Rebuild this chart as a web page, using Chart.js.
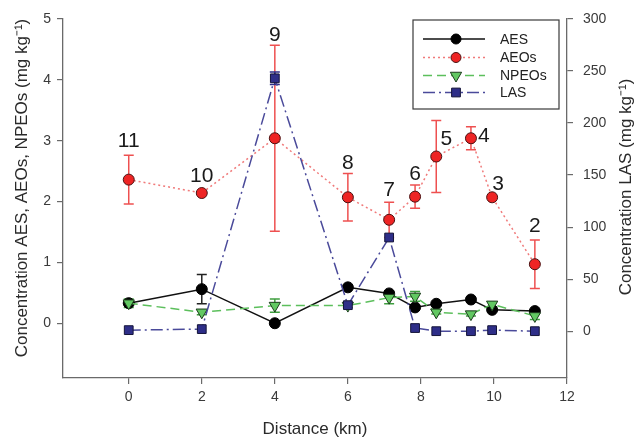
<!DOCTYPE html>
<html><head><meta charset="utf-8">
<script src="https://cdn.jsdelivr.net/npm/chart.js@4/dist/chart.umd.min.js"></script>
<style>html,body{margin:0;padding:0;background:#fff}#wrap{width:636px;height:437px}</style>
</head><body><div id="wrap"><canvas id="c" width="636" height="437"></canvas></div>
<script>
// ---- data ----
const distance = [0, 2, 4, 6, 7.13, 7.84, 8.42, 9.37, 9.95, 11.12];
const siteLabels = ['11', '10', '9', '8', '7', '6', '5', '4', '3', '2'];
const aes      = [0.33, 0.56, 0.00, 0.59, 0.49, 0.26, 0.32, 0.39, 0.22, 0.20];
const aesErr   = [0.03, 0.24, 0.02, 0.03, 0.03, 0.02, 0.02, 0.02, 0.02, 0.02];
const aeos     = [2.36, 2.14, 3.04, 2.07, 1.70, 2.08, 2.74, 3.04, 2.07, 0.97];
const aeosErr  = [0.40, 0.00, 1.53, 0.39, 0.29, 0.19, 0.59, 0.19, 0.00, 0.40];
const npeos    = [0.33, 0.18, 0.29, 0.29, 0.42, 0.44, 0.18, 0.15, 0.31, 0.12];
const npeosErr = [0.07, 0.04, 0.11, 0.03, 0.10, 0.08, 0.03, 0.03, 0.04, 0.06];
const las      = [1, 2, 243, 25, 90, 3, 0, 0, 1, 0];
const lasErr   = [0, 0, 6, 0, 0, 0, 0, 0, 0, 0];
const xTicks = [0, 2, 4, 6, 8, 10, 12];
const leftTicks = [0, 1, 2, 3, 4, 5];
const rightTicks = [0, 50, 100, 150, 200, 250, 300];
const seriesNames = ['AES', 'AEOs', 'NPEOs', 'LAS'];

// ---- styles / label placement (pixel offsets from AEOs point) ----
const labelOffsets = [[0,-38],[0,-17],[0,-103],[0,-34],[0,-30],[0,-22],[10,-17],[13,-2],[6,-13],[0,-38]];
const FONT = "'Liberation Sans', Arial, Helvetica, sans-serif";
const axisColor = '#6a6a6a';
const tickColor = '#3a3a3a';

function mk(ys){ return distance.map((x,i)=>({x:x, y:ys[i]})); }

const styles = [
  {line:'#111111', dash:[], fill:'#000000', border:'#000000', shape:'circle', r:5.5, err:'#222222'},
  {line:'#f07a7a', dash:[2,3], fill:'#ee2424', border:'#4a1212', shape:'circle', r:5.5, err:'#ee5050'},
  {line:'#5cbf5c', dash:[9,5], fill:'#62c862', border:'#1d3d1d', shape:'triangle', r:6.5, err:'#3f9f3f'},
  {line:'#4a4a9a', dash:[12,4,2,4], fill:'#2e2e88', border:'#15153a', shape:'rect', r:6.2, err:'#2e2e88'}
];
const errs = [aesErr, aeosErr, npeosErr, lasErr];

const errorBars = {
  id:'errorBars',
  beforeDatasetsDraw(chart){
    const ctx = chart.ctx;
    chart.data.datasets.forEach((ds, di)=>{
      const ys = chart.scales[ds.yAxisID];
      const xs = chart.scales.x;
      const e = errs[di];
      ctx.save();
      ctx.strokeStyle = styles[di].err;
      ctx.lineWidth = 1.5;
      ds.data.forEach((p,i)=>{
        if(!e[i]) return;
        const px = xs.getPixelForValue(p.x);
        const y1 = ys.getPixelForValue(p.y + e[i]);
        const y2 = ys.getPixelForValue(p.y - e[i]);
        ctx.beginPath();
        ctx.moveTo(px, y1); ctx.lineTo(px, y2);
        ctx.moveTo(px-5, y1); ctx.lineTo(px+5, y1);
        ctx.moveTo(px-5, y2); ctx.lineTo(px+5, y2);
        ctx.stroke();
      });
      ctx.restore();
    });
  }
};

function drawMarker(ctx, st, x, y){
  ctx.save();
  ctx.fillStyle = st.fill; ctx.strokeStyle = st.border; ctx.lineWidth = 1;
  ctx.setLineDash([]);
  ctx.beginPath();
  if(st.shape==='circle'){ ctx.arc(x, y, st.r-0.5, 0, Math.PI*2); }
  else if(st.shape==='rect'){ const s = st.r*Math.SQRT1_2; ctx.rect(x-s, y-s, 2*s, 2*s); }
  else { const r = st.r; ctx.moveTo(x - r*0.866, y - r*0.5); ctx.lineTo(x + r*0.866, y - r*0.5); ctx.lineTo(x, y + r); ctx.closePath(); }
  ctx.fill(); ctx.stroke();
  ctx.restore();
}

const overlay = {
  id:'overlay',
  afterDatasetsDraw(chart){
    const ctx = chart.ctx;
    const xs = chart.scales.x, ys = chart.scales.y;
    ctx.save();
    ctx.fillStyle = '#1a1a1a';
    ctx.font = '21px ' + FONT;
    ctx.textAlign = 'center'; ctx.textBaseline = 'middle';
    siteLabels.forEach((t,i)=>{
      const px = xs.getPixelForValue(distance[i]) + labelOffsets[i][0];
      const py = ys.getPixelForValue(aeos[i]) + labelOffsets[i][1];
      ctx.fillText(t, px, py);
    });
    ctx.restore();
  },
  afterDraw(chart){
    const ctx = chart.ctx;
    const ca = chart.chartArea;
    // axis titles
    ctx.save();
    ctx.fillStyle = '#2a2a2a';
    ctx.font = '17px ' + FONT;
    ctx.textAlign = 'center'; ctx.textBaseline = 'middle';
    ctx.fillText('Distance (km)', (ca.left+ca.right)/2, 429);
    ctx.save(); ctx.translate(22, 188); ctx.rotate(-Math.PI/2);
    ctx.fillText('Concentration AES, AEOs, NPEOs (mg kg\u207B\u00B9)', 0, 0); ctx.restore();
    ctx.save(); ctx.translate(626, 187); ctx.rotate(-Math.PI/2);
    ctx.fillText('Concentration LAS (mg kg\u207B\u00B9)', 0, 0); ctx.restore();
    ctx.restore();
    // legend
    ctx.save();
    const L = 413, T = 20, W = 146, H = 89;
    ctx.fillStyle = '#fff'; ctx.fillRect(L, T, W, H);
    ctx.strokeStyle = '#3a3a3a'; ctx.lineWidth = 1.2; ctx.strokeRect(L, T, W, H);
    const rows = [39, 57.5, 75.5, 92.5];
    seriesNames.forEach((n,i)=>{
      const st = styles[i];
      ctx.save();
      ctx.strokeStyle = st.line; ctx.lineWidth = 1.5; ctx.setLineDash(st.dash);
      ctx.beginPath(); ctx.moveTo(423, rows[i]); ctx.lineTo(485, rows[i]); ctx.stroke();
      ctx.restore();
      drawMarker(ctx, st, 456, rows[i]);
      ctx.fillStyle = '#222'; ctx.font = '14px ' + FONT;
      ctx.textAlign = 'left'; ctx.textBaseline = 'middle';
      ctx.fillText(n, 500, rows[i]+1);
    });
    ctx.restore();
  }
};

function axisCommon(ticksArr, fitFn, pad){
  return {
    afterBuildTicks: s => { s.ticks = ticksArr.map(v=>({value:v})); },
    afterFit: fitFn,
    grid: {drawOnChartArea:false, drawTicks:true, tickLength:6, color:axisColor, lineWidth:1.2},
    border: {display:true, color:axisColor, width:1.3},
    ticks: {color:tickColor, font:{size:14, family:FONT}, padding:pad, maxRotation:0, autoSkip:false}
  };
}

const datasets = [aes, aeos, npeos, las].map((vals, i)=>{
  const st = styles[i];
  return {
    label: seriesNames[i],
    data: mk(vals),
    yAxisID: i===3 ? 'y2' : 'y',
    showLine: true,
    borderColor: st.line,
    borderDash: st.dash,
    borderWidth: 1.5,
    pointStyle: st.shape,
    pointRotation: st.shape==='triangle' ? 180 : 0,
    pointRadius: st.r,
    pointBackgroundColor: st.fill,
    pointBorderColor: st.border,
    pointBorderWidth: 1,
    order: [3,2,1,0][i]
  };
});

new Chart(document.getElementById('c'), {
  type: 'scatter',
  data: { datasets },
  options: {
    responsive: false,
    animation: false,
    devicePixelRatio: 1,
    layout: {padding: {top:19, left:0, right:0, bottom:0}},
    plugins: {legend:{display:false}, tooltip:{enabled:false}},
    scales: {
      x: Object.assign({type:'linear', min:-1.8, max:12}, axisCommon(xTicks, s=>{s.height=59;}, 5)),
      y: Object.assign({type:'linear', position:'left', min:-0.9, max:5}, axisCommon(leftTicks, s=>{s.width=63;}, 6)),
      y2: Object.assign({type:'linear', position:'right', min:-45, max:300}, axisCommon(rightTicks, s=>{s.width=69;}, 10))
    }
  },
  plugins: [errorBars, overlay]
});
</script>
</body></html>
